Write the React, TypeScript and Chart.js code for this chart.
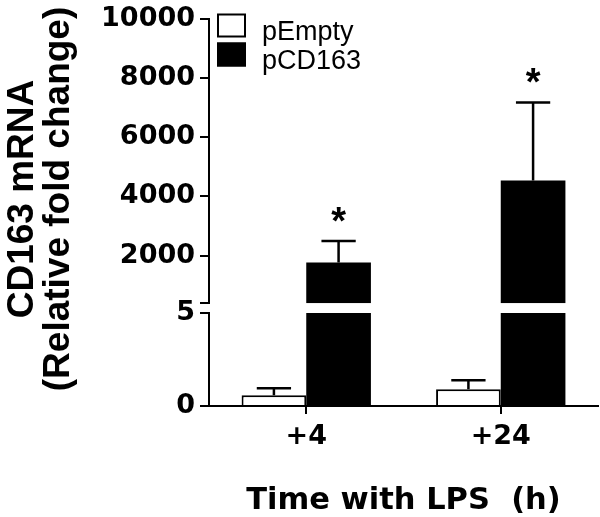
import React, { useEffect, useRef } from 'react';
import { Chart, registerables } from 'chart.js';

Chart.register(...registerables);

// ---- data ----
const categories = ['+4', '+24'];
const emptyLabel = 'pEmpty';
const cdLabel = 'pCD163';
const emptyValues = [0.58, 0.9];
const emptyErrors = [0.38, 0.48];
const cdValues = [1770, 4540];
const cdErrors = [730, 2630];
const significance = ['*', '*'];
const lowerTicks = [0, 5];
const upperTicks = [2000, 4000, 6000, 8000, 10000];
const upperMin = 400;
const yTitleLines = ['CD163 mRNA', '(Relative fold change)'];
const xTitle = 'Time with LPS  (h)';

const lowerMax = lowerTicks[lowerTicks.length - 1];
const upperMax = upperTicks[upperTicks.length - 1];

const tickFont = { family: 'DejaVu Sans', weight: 'bold' as const, size: 27, lineHeight: 1 };

const errorBarPlugin = {
  id: 'errorBars',
  afterDatasetsDraw(chart: any) {
    const ctx = chart.ctx;
    chart.data.datasets.forEach((ds: any, i: number) => {
      if (!ds.errors) return;
      const meta = chart.getDatasetMeta(i);
      const yScale = chart.scales[ds.yAxisID];
      meta.data.forEach((el: any, j: number) => {
        const mean = ds.means[j];
        const top = mean + ds.errors[j];
        const x = el.x;
        const yMean = yScale.getPixelForValue(mean);
        const yTop = yScale.getPixelForValue(top);
        const half = el.width * 0.265;
        ctx.save();
        ctx.strokeStyle = '#000';
        ctx.lineWidth = 2.5;
        ctx.beginPath();
        ctx.moveTo(x, yMean);
        ctx.lineTo(x, yTop);
        ctx.moveTo(x - half, yTop);
        ctx.lineTo(x + half, yTop);
        ctx.stroke();
        if (ds.marks && ds.marks[j]) {
          ctx.fillStyle = '#000';
          ctx.font = 'bold 38px "Liberation Sans", Arial, sans-serif';
          ctx.textAlign = 'center';
          ctx.textBaseline = 'alphabetic';
          ctx.fillText(ds.marks[j], x, yTop - 7);
        }
        ctx.restore();
      });
    });
  },
};

const legendPlugin = {
  id: 'customLegend',
  afterDraw(chart: any) {
    const ctx = chart.ctx;
    const items = [
      { text: emptyLabel, fill: '#fff' },
      { text: cdLabel, fill: '#000' },
    ];
    const left = chart.chartArea.left + 8;
    ctx.save();
    items.forEach((it, k) => {
      const top = chart.chartArea.top - 5 + k * 29;
      ctx.fillStyle = it.fill;
      ctx.fillRect(left, top, 29, 24);
      ctx.strokeStyle = '#000';
      ctx.lineWidth = 2;
      ctx.strokeRect(left + 1, top + 1, 27, 22);
      ctx.fillStyle = '#000';
      ctx.font = '27px "Liberation Sans", Arial, sans-serif';
      ctx.textAlign = 'left';
      ctx.textBaseline = 'alphabetic';
      ctx.fillText(it.text, left + 45, top + 26);
    });
    ctx.restore();
  },
};

const yTitlePlugin = {
  id: 'yTitle',
  afterDraw(chart: any) {
    const ctx = chart.ctx;
    ctx.save();
    ctx.translate(0, 199);
    ctx.rotate(-Math.PI / 2);
    ctx.fillStyle = '#000';
    ctx.font = 'bold 37px "Liberation Sans", Arial, sans-serif';
    ctx.textAlign = 'center';
    ctx.textBaseline = 'alphabetic';
    ctx.fillText(yTitleLines[0], 0, 33);
    ctx.fillText(yTitleLines[1], 0, 69);
    ctx.restore();
  },
};

const axisCommon = {
  grid: {
    drawOnChartArea: false,
    drawTicks: true,
    tickLength: 9,
    tickWidth: 2,
    tickColor: '#000',
    lineWidth: 2,
    color: '#000',
  },
  border: { display: true, color: '#000', width: 2 },
};

export default function App() {
  const ref = useRef<HTMLCanvasElement | null>(null);

  useEffect(() => {
    document.body.style.margin = '0';
    const canvas = ref.current;
    if (!canvas) return;
    const chart = new Chart(canvas, {
      type: 'bar',
      data: {
        labels: categories,
        datasets: [
          {
            label: emptyLabel,
            data: emptyValues,
            yAxisID: 'yLow',
            stack: 'empty',
            backgroundColor: '#fff',
            borderColor: '#000',
            borderWidth: 2,
            errors: emptyErrors,
            means: emptyValues,
          } as any,
          {
            label: cdLabel,
            data: cdValues.map((v) => Math.min(v, lowerMax)),
            yAxisID: 'yLow',
            stack: 'cd',
            backgroundColor: '#000',
            borderWidth: 0,
          } as any,
          {
            label: cdLabel,
            data: cdValues.map((v) => [upperMin, v]),
            yAxisID: 'yHigh',
            stack: 'cd',
            backgroundColor: '#000',
            borderWidth: 0,
            errors: cdErrors,
            means: cdValues,
            marks: significance,
          } as any,
        ],
      },
      options: {
        responsive: false,
        animation: false,
        devicePixelRatio: 1,
        categoryPercentage: 0.665,
        barPercentage: 1,
        layout: { padding: { top: 14, right: 2, left: 0, bottom: 0 } },
        plugins: {
          legend: { display: false },
          tooltip: { enabled: false },
        },
        scales: {
          x: {
            type: 'category',
            offset: true,
            grid: { ...axisCommon.grid, offset: false, tickLength: 8 },
            border: axisCommon.border,
            ticks: { font: tickFont, color: '#000', padding: 9, maxRotation: 0 },
            title: {
              display: true,
              text: xTitle,
              color: '#000',
              font: { family: 'DejaVu Sans', weight: 'bold', size: 30.5, lineHeight: 1 },
              padding: { top: 0, bottom: 1 },
            },
            afterFit: (s: any) => {
              s.height = 111;
            },
          },
          yLow: {
            type: 'linear',
            position: 'left',
            stack: 'yaxis',
            stackWeight: 94,
            weight: 1,
            stacked: false,
            min: 0,
            max: lowerMax,
            ...axisCommon,
            afterBuildTicks: (s: any) => {
              s.ticks = lowerTicks.map((v) => ({ value: v }));
            },
            ticks: {
              font: tickFont,
              color: '#000',
              padding: 5,
              autoSkip: false,
              callback: (v: any) => String(v),
            },
            afterFit: (s: any) => {
              s.width = 209;
            },
          },
          yGap: {
            type: 'linear',
            position: 'left',
            stack: 'yaxis',
            stackWeight: 10,
            weight: 2,
            display: false,
            min: 0,
            max: 1,
          },
          yHigh: {
            type: 'linear',
            position: 'left',
            stack: 'yaxis',
            stackWeight: 288,
            weight: 3,
            stacked: false,
            min: upperMin,
            max: upperMax,
            ...axisCommon,
            afterBuildTicks: (s: any) => {
              s.ticks = [upperMin, ...upperTicks].map((v) => ({ value: v }));
            },
            ticks: {
              font: tickFont,
              color: '#000',
              padding: 5,
              autoSkip: false,
              callback: (v: any) => (v === upperMin ? '' : String(v)),
            },
            afterFit: (s: any) => {
              s.width = 209;
            },
          },
        } as any,
      },
      plugins: [errorBarPlugin, legendPlugin, yTitlePlugin],
    });
    return () => chart.destroy();
  }, []);

  return (
    <div style={{ width: 600, height: 517 }}>
      <style>{'body{margin:0}'}</style>
      <canvas ref={ref} width={600} height={517} style={{ display: 'block', width: 600, height: 517 }} />
    </div>
  );
}
